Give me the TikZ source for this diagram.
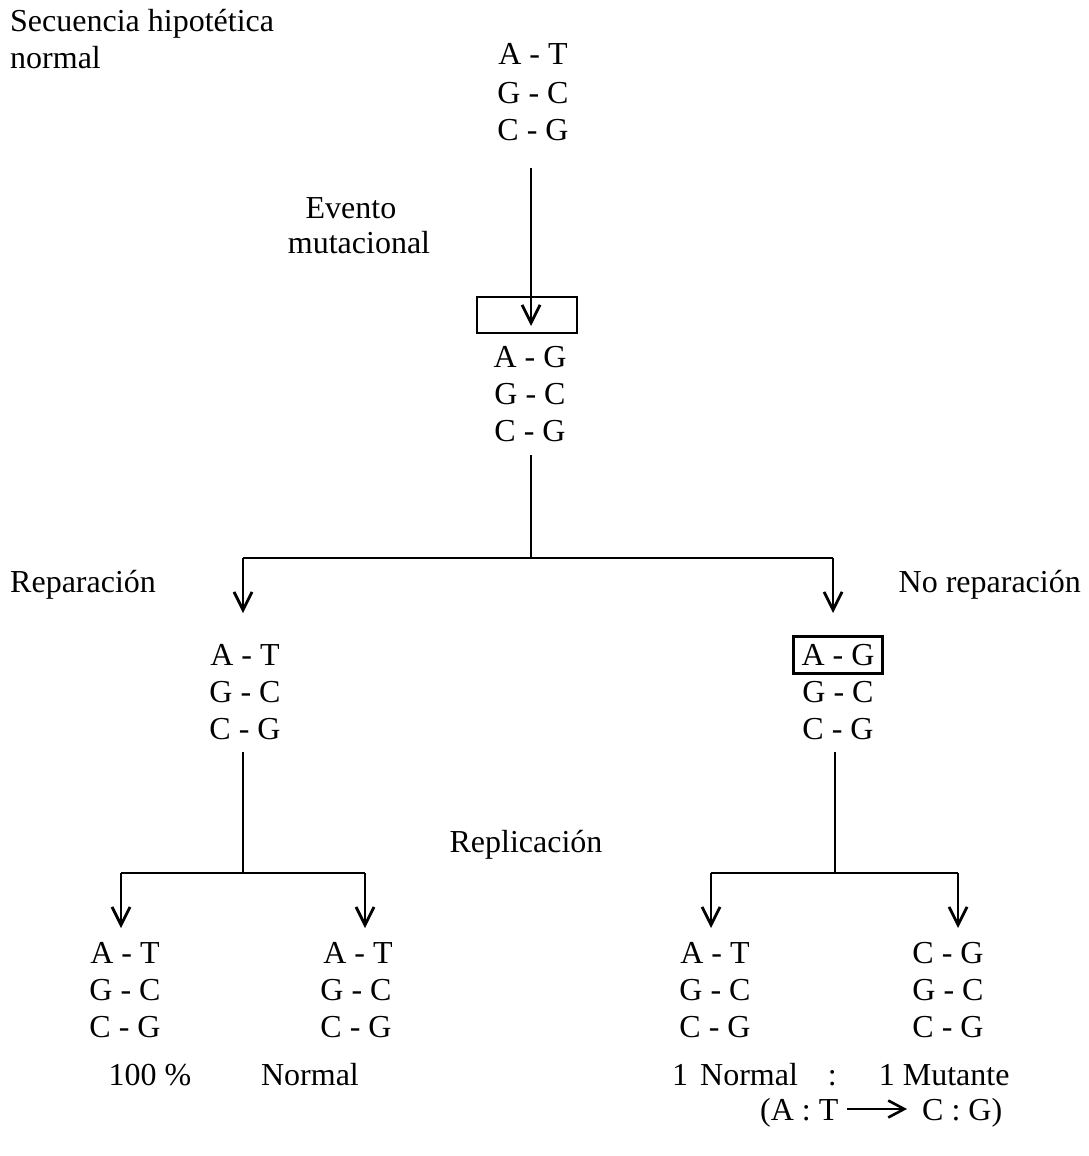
\documentclass[tikz,border=0pt]{standalone}
\usepackage{fontspec}
\setmainfont{Liberation Serif}
\usetikzlibrary{arrows.meta}
\begin{document}
\begin{tikzpicture}[x=1pt,y=-1pt,
  txt/.style={inner sep=0pt,font=\fontsize{32}{37}\selectfont,text height=24pt,text depth=4pt},
  pair/.style={txt},
  boxed/.style={draw,line width=2.8pt,inner xsep=8pt,inner ysep=4.5pt},
  link/.style={line width=2.8pt},
  arr/.style={link,-{Straight Barb[length=18pt,width=18pt,line width=2.8pt]}}]
\useasboundingbox (0,0) rectangle (1088,1156);

% titles and labels
\node[txt,anchor=west] (tit1) at (10,22) {Secuencia hipotética};
\node[txt,anchor=west] (tit2) at (10,58) {normal};
\node[txt] (ev1) at (351,208) {Evento};
\node[txt] (ev2) at (359,243) {mutacional};
\node[txt,anchor=west] (rep) at (10,582) {Reparación};
\node[txt,anchor=east] (norep) at (1081,582) {No reparación};
\node[txt] (repl) at (526,842) {Replicación};

% original sequence
\node[pair] (s0a) at (533,55) {A - T};
\node[pair] (s0b) at (533,93) {G - C};
\node[pair] (s0c) at (533,130) {C - G};

% mutation event
\node[draw,line width=2.8pt,minimum width=100pt,minimum height=36pt,inner sep=0pt] (mbox) at (527,315) {};
\coordinate (mtip) at (531,326);
\draw[arr] (531,168) -- (mtip);

\node[pair] (s1a) at (530,357) {A - G};
\node[pair] (s1b) at (530,394) {G - C};
\node[pair] (s1c) at (530,431) {C - G};

% first branching
\coordinate (b1) at (531,558);
\coordinate (b1l) at (243,558);
\coordinate (b1r) at (833,558);
\draw[link] (531,455) -- (b1);
\draw[link] (b1l) -- (b1r);

\node[pair] (la) at (245,655) {A - T};
\node[pair] (lb) at (245,692) {G - C};
\node[pair] (lc) at (245,729) {C - G};

\node[pair,boxed] (ra) at (838,655) {A - G};
\node[pair] (rb) at (838,692) {G - C};
\node[pair] (rc) at (838,729) {C - G};

\draw[arr] (b1l) -- (243,613);
\draw[arr] (b1r) -- (833,613);

% replication, left
\coordinate (b2) at (243,873);
\coordinate (b2l) at (121,873);
\coordinate (b2r) at (365,873);
\draw[link] (243,752) -- (b2);
\draw[link] (b2l) -- (b2r);
\draw[arr] (b2l) -- (121,928);
\draw[arr] (b2r) -- (365,928);

% replication, right
\coordinate (b3) at (835,873);
\coordinate (b3l) at (711,873);
\coordinate (b3r) at (958,873);
\draw[link] (835,752) -- (b3);
\draw[link] (b3l) -- (b3r);
\draw[arr] (b3l) -- (711,928);
\draw[arr] (b3r) -- (958,928);

% daughter sequences
\node[pair] (d1a) at (125,953) {A - T};
\node[pair] (d1b) at (125,990) {G - C};
\node[pair] (d1c) at (125,1027) {C - G};
\node[pair] (d2a) at (358,953) {A - T};
\node[pair] (d2b) at (356,990) {G - C};
\node[pair] (d2c) at (356,1027) {C - G};
\node[pair] (d3a) at (715,953) {A - T};
\node[pair] (d3b) at (715,990) {G - C};
\node[pair] (d3c) at (715,1027) {C - G};
\node[pair] (d4a) at (948,953) {C - G};
\node[pair] (d4b) at (948,990) {G - C};
\node[pair] (d4c) at (948,1027) {C - G};

% results
\node[txt] (pct) at (150,1075) {100 \%};
\node[txt] (nor) at (310,1075) {Normal};
\node[txt,anchor=west] (ratio) at (672,1075) {1\hspace{12pt}Normal\hspace{30pt}:\hspace{42pt}1 Mutante};
\node[txt,anchor=west] (from) at (760,1110) {(A : T};
\node[txt,anchor=west] (to) at (922,1110) {C : G)};
\coordinate (ast) at (847,1109);
\coordinate (aen) at (907,1109);
\draw[line width=2.6pt,-{Straight Barb[length=16pt,width=17pt,line width=2.6pt]}] (ast) -- (aen);
\end{tikzpicture}
\end{document}
